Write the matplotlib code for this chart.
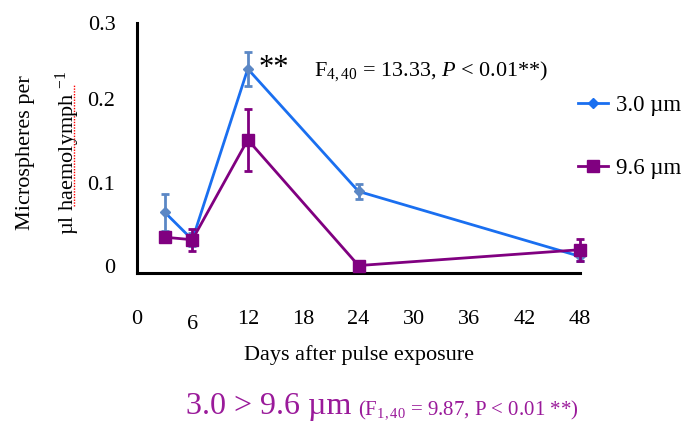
import matplotlib

matplotlib.use("Agg")
import matplotlib.pyplot as plt
from matplotlib.lines import Line2D

plt.rcParams["font.family"] = ["Liberation Serif", "DejaVu Serif"]
plt.rcParams["mathtext.fontset"] = "custom"
plt.rcParams["mathtext.rm"] = "Liberation Serif"
plt.rcParams["mathtext.it"] = "Liberation Serif:italic"

# data
days = [3, 6, 12, 24, 48]
small_mean = [0.073, 0.040, 0.245, 0.098, 0.020]
small_err = [0.022, 0.008, 0.020, 0.009, 0.006]
large_mean = [0.043, 0.040, 0.160, 0.009, 0.028]
large_err = [0.003, 0.013, 0.037, 0.002, 0.013]
x_ticks = [0, 6, 12, 18, 24, 30, 36, 42, 48]
y_ticks = [0, 0.1, 0.2, 0.3]
y_tick_labels = ["0", "0.1", "0.2", "0.3"]

BLUE = "#1a6ff0"
BLUE_ERR = "#5b87c5"
PURPLE = "#800080"
TEXT_PURPLE = "#9a1a9a"

fig = plt.figure(figsize=(6.84, 4.24), dpi=100)
ax = fig.add_axes([0.2003, 0.356, 0.6477, 0.5896])

ax.errorbar(days, small_mean, yerr=small_err, color=BLUE, ecolor=BLUE_ERR,
            elinewidth=2, capsize=3, capthick=2, lw=2, marker="D",
            markersize=5, markerfacecolor=BLUE_ERR, markeredgecolor=BLUE_ERR,
            clip_on=False, zorder=3)
ax.errorbar(days, large_mean, yerr=large_err, color=PURPLE, ecolor=PURPLE,
            elinewidth=2, capsize=3, capthick=2, lw=2, marker="s",
            markersize=8, clip_on=False, zorder=4)

ax.set_xlim(0, 48)
ax.set_ylim(0, 0.3)
ax.set_xticks(x_ticks)
ax.set_yticks(y_ticks)
ax.set_yticklabels(y_tick_labels, va="baseline")
ax.get_yticklabels()[-1].set_va("center_baseline")
ax.tick_params(axis="x", labelsize=16, pad=25, length=3, width=1.2,
               color="white", direction="inout")
ax.tick_params(axis="y", labelsize=16, pad=14, length=3, width=1.2,
               color="white", direction="inout")
# the "6" label sits a little lower in the original
ax.get_xticklabels()[1].set_y(-0.02)
for side in ["top", "right"]:
    ax.spines[side].set_visible(False)
for side in ["left", "bottom"]:
    ax.spines[side].set_linewidth(2.2)

ax.set_xlabel("Days after pulse exposure", fontsize=16, labelpad=8)

# two-line y label
fig.text(0.037, 0.64, "Microspheres per", rotation=90, fontsize=16,
         ha="center", va="center")
fig.text(0.099, 0.64, "µl haemolymph $^{-1}$", rotation=90, fontsize=16,
         ha="center", va="center")
fig.add_artist(Line2D([0.108, 0.108], [0.515, 0.80], color="red", lw=1,
                      ls=(0, (1, 1)), transform=fig.transFigure))

# annotations
ax.annotate("**", xy=(12, 0.245), xytext=(8, 0), textcoords="offset points",
            fontsize=22, va="center", ha="left")
ax.text(0.4, 0.81, "F$_{4,40}$ = 13.33, $P$ < 0.01**)", transform=ax.transAxes,
        fontsize=16, va="center", ha="left")

handles = [
    Line2D([], [], color=BLUE, lw=2, marker="D", markersize=5),
    Line2D([], [], color=PURPLE, lw=2, marker="s", markersize=8),
]
ax.legend(handles, ["3.0 µm", "9.6 µm"], loc="upper left",
          bbox_to_anchor=(0.845, 0.775), bbox_transform=fig.transFigure,
          frameon=False, fontsize=16.5, handlelength=1.3, handletextpad=0.35,
          labelspacing=1.8, borderpad=0, borderaxespad=0)

fig.text(0.272, 0.024, "3.0 > 9.6 µm", fontsize=23, color=TEXT_PURPLE,
         ha="left", va="baseline")
fig.text(0.523, 0.024, "(F$_{1,40}$ = 9.87, P < 0.01 **)", fontsize=15,
         color=TEXT_PURPLE, ha="left", va="baseline")

fig.savefig("out.png", dpi=100)
